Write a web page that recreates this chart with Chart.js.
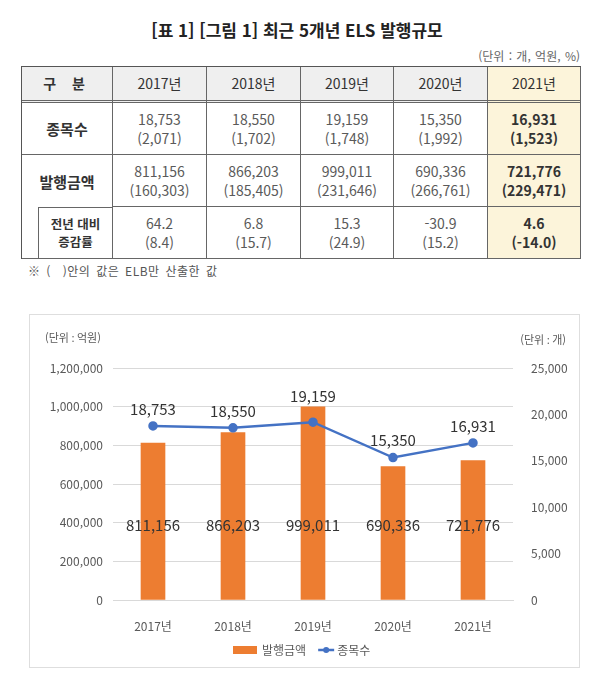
<!DOCTYPE html>
<html lang="ko">
<head>
<meta charset="utf-8">
<script src="https://cdn.jsdelivr.net/npm/chart.js@4"></script>
<style>
  body { margin:0; width:600px; height:693px; background:#fff; position:relative; overflow:hidden;
         font-family:"Noto Sans CJK KR", "Noto Sans", sans-serif; color:#333; }
  .title { position:absolute; left:0; width:594px; top:17px; text-align:center; font-size:17px; font-weight:bold; color:#222; }
  .unit { position:absolute; right:20px; top:47px; font-size:12px; color:#666; word-spacing:1px; }
  table { position:absolute; left:21px; top:66px; width:559px; table-layout:fixed;
          border-collapse:separate; border-spacing:0; border-top:1px solid #555; border-left:1px solid #555; }
  td, th { border-right:1px solid #666; border-bottom:1px solid #666; text-align:center; padding:0;
           font-size:14px; line-height:19px; color:#5a5a5a; font-weight:normal; }
  thead th { height:33px; background:#efefef; color:#333; border-bottom:3px double #666; }
  thead th.lead { font-weight:bold; letter-spacing:6px; }
  tbody td { height:51px; }
  td.lead { font-weight:bold; color:#333; font-size:15px; }
  td.last, th.last { background:#fcf4da; }
  td.last { color:#333; font-weight:bold; }
  td.nobottom { border-bottom:none; }
  td.sub { position:relative; }
  td.sub div { position:absolute; left:16px; right:0; top:0; bottom:0; border-left:1px solid #666; border-top:1px solid #666;
               display:flex; align-items:center; justify-content:center; font-size:12.5px; line-height:18px; font-weight:bold; color:#333; }
  .note { position:absolute; left:28px; top:262px; font-size:12px; color:#555; letter-spacing:0.5px; word-spacing:2px; }
  .chartbox { position:absolute; left:30px; top:315px; width:549px; height:352px; outline:1px solid #dedede; }
</style>
</head>
<body>
<div class="title">[표 1] [그림 1] 최근 5개년 ELS 발행규모</div>
<div class="unit">(단위 : 개, 억원, %)</div>
<table id="tbl">
  <colgroup><col style="width:91px"><col style="width:94px"><col style="width:94px"><col style="width:93px"><col style="width:94px"><col style="width:93px"></colgroup>
  <thead><tr id="head"><th class="lead">구 분</th></tr></thead>
  <tbody id="body"></tbody>
</table>
<div class="note">※ (&nbsp;&nbsp;)안의 값은 ELB만 산출한 값</div>
<div class="chartbox"><canvas id="chart" width="549" height="352"></canvas></div>
<script>
// data
const years = ['2017년', '2018년', '2019년', '2020년', '2021년'];
const counts = [18753, 18550, 19159, 15350, 16931];
const countsELB = [2071, 1702, 1748, 1992, 1523];
const amounts = [811156, 866203, 999011, 690336, 721776];
const amountsELB = [160303, 185405, 231646, 266761, 229471];
const growth = ['64.2', '6.8', '15.3', '-30.9', '4.6'];
const growthELB = ['8.4', '15.7', '24.9', '15.2', '-14.0'];
const amountTicks = { max: 1200000, step: 200000 };
const countTicks = { max: 25000, step: 5000 };

const fmt = v => v.toLocaleString('en-US');
const FONT = '"Noto Sans CJK KR", "Noto Sans", sans-serif';

// Table
const head = document.getElementById('head');
years.forEach((y, i) => {
    const th = document.createElement('th');
    th.textContent = y;
    if (i === years.length - 1) th.className = 'last';
    head.appendChild(th);
});

function addRow(label, top, bottom, leadClass) {
    const tr = document.createElement('tr');
    const lead = document.createElement('td');
    lead.className = leadClass;
    if (leadClass.includes('sub')) lead.innerHTML = '<div>' + label + '</div>';
    else lead.innerHTML = label;
    tr.appendChild(lead);
    top.forEach((v, i) => {
        const td = document.createElement('td');
        td.innerHTML = v + '<br>(' + bottom[i] + ')';
        if (i === top.length - 1) td.className = 'last';
        tr.appendChild(td);
    });
    document.getElementById('body').appendChild(tr);
}
addRow('종목수', counts.map(fmt), countsELB.map(fmt), 'lead');
addRow('발행금액', amounts.map(fmt), amountsELB.map(fmt), 'lead nobottom');
addRow('전년 대비<br>증감률', growth, growthELB, 'sub');

// Chart
const labelPlugin = {
    id: 'labels',
    afterDatasetsDraw(chart) {
        const ctx = chart.ctx;
        const bars = chart.getDatasetMeta(0).data;
        const pts = chart.getDatasetMeta(1).data;
        const area = chart.chartArea;
        ctx.save();
        ctx.font = '15px ' + FONT;
        ctx.fillStyle = '#333';
        ctx.textAlign = 'center';
        ctx.textBaseline = 'middle';
        bars.forEach((b, i) => ctx.fillText(fmt(amounts[i]), b.x, area.bottom - 75));
        pts.forEach((p, i) => {
            const y = Math.min(p.y - 17, bars[i].y - 11);
            ctx.fillText(fmt(counts[i]), p.x, y);
        });

        // unit labels
        ctx.font = '11px ' + FONT;
        ctx.fillStyle = '#595959';
        ctx.textAlign = 'left';
        ctx.fillText('(단위 : 억원)', 15, 23);
        ctx.textAlign = 'right';
        ctx.fillText('(단위 : 개)', 536, 25);

        // legend
        const ly = 335;
        let x = 203;
        ctx.font = '12px ' + FONT;
        ctx.fillStyle = '#ED7D31';
        ctx.fillRect(x, ly - 4, 24, 8);
        x += 29;
        ctx.fillStyle = '#595959';
        ctx.textAlign = 'left';
        ctx.fillText('발행금액', x, ly);
        x += ctx.measureText('발행금액').width + 12;
        ctx.strokeStyle = '#4472C4';
        ctx.lineWidth = 2.5;
        ctx.beginPath(); ctx.moveTo(x, ly); ctx.lineTo(x + 16, ly); ctx.stroke();
        ctx.fillStyle = '#4472C4';
        ctx.beginPath(); ctx.arc(x + 8, ly, 3, 0, Math.PI * 2); ctx.fill();
        x += 19;
        ctx.fillStyle = '#595959';
        ctx.fillText('종목수', x, ly);
        ctx.restore();
    }
};

new Chart(document.getElementById('chart'), {
    type: 'bar',
    data: {
        labels: years,
        datasets: [{
            type: 'bar',
            label: '발행금액',
            data: amounts,
            backgroundColor: '#ED7D31',
            barThickness: 24,
            yAxisID: 'y',
            order: 2
        }, {
            type: 'line',
            label: '종목수',
            data: counts,
            borderColor: '#4472C4',
            backgroundColor: '#4472C4',
            borderWidth: 2.5,
            pointRadius: 3.5,
            pointBackgroundColor: '#4472C4',
            tension: 0,
            yAxisID: 'y1',
            order: 1
        }]
    },
    options: {
        responsive: false,
        animation: false,
        layout: { padding: { top: 53, left: 0, right: 0, bottom: 0 } },
        plugins: { legend: { display: false }, tooltip: { enabled: false } },
        scales: {
            x: {
                grid: { display: false },
                border: { display: true, color: '#d9d9d9' },
                ticks: { color: '#595959', font: { size: 12, family: FONT }, padding: 11 },
                afterFit(s) { s.height = 67; }
            },
            y: {
                position: 'left',
                min: 0, max: amountTicks.max,
                ticks: { stepSize: amountTicks.step, callback: v => fmt(v), color: '#595959', font: { size: 12, family: FONT }, padding: 10 },
                grid: { color: '#d9d9d9', drawTicks: false },
                border: { display: false },
                afterFit(s) { s.width = 83; }
            },
            y1: {
                position: 'right',
                min: 0, max: countTicks.max,
                ticks: { stepSize: countTicks.step, callback: v => fmt(v), color: '#595959', font: { size: 12, family: FONT }, padding: 10 },
                grid: { display: false },
                border: { display: false },
                afterFit(s) { s.width = 66; }
            }
        }
    },
    plugins: [labelPlugin]
});
</script>
</body>
</html>
